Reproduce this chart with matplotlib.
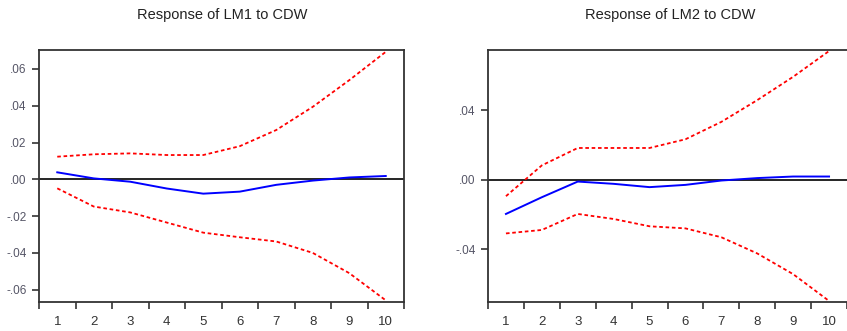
import matplotlib
matplotlib.use("Agg")
import matplotlib.pyplot as plt

plt.rcParams['font.family'] = ['Liberation Sans', 'DejaVu Sans']

periods = [1, 2, 3, 4, 5, 6, 7, 8, 9, 10]

# Response of LM1 to CDW
lm1_resp = [0.0038, 0.0005, -0.0013, -0.0050, -0.0078, -0.0067, -0.0030, -0.0007, 0.0010, 0.0018]
lm1_upper = [0.0123, 0.0136, 0.0141, 0.0132, 0.0132, 0.0180, 0.0268, 0.0394, 0.0539, 0.0693]
lm1_lower = [-0.0049, -0.0148, -0.0180, -0.0235, -0.0290, -0.0315, -0.0338, -0.0400, -0.0510, -0.0658]

# Response of LM2 to CDW
lm2_resp = [-0.0196, -0.0100, -0.0010, -0.0023, -0.0042, -0.0029, -0.0004, 0.0010, 0.0019, 0.0019]
lm2_upper = [-0.0094, 0.0083, 0.0183, 0.0183, 0.0183, 0.0233, 0.0333, 0.0458, 0.0592, 0.0740]
lm2_lower = [-0.0308, -0.0288, -0.0196, -0.0225, -0.0267, -0.0279, -0.0330, -0.0423, -0.0542, -0.0696]

lm1_yticks = [0.06, 0.04, 0.02, 0.0, -0.02, -0.04, -0.06]
lm1_ylabels = ['.06', '.04', '.02', '.00', '-.02', '-.04', '-.06']
lm2_yticks = [0.04, 0.0, -0.04]
lm2_ylabels = ['.04', '.00', '-.04']

fig = plt.figure(figsize=(8.47, 3.31), dpi=100)
ax1 = fig.add_axes([39 / 847, 29 / 331, 365 / 847, 252 / 331])
ax2 = fig.add_axes([488 / 847, 29 / 331, 359 / 847, 252 / 331])


def panel(ax, title, resp, up, lo, yt, yl, ylim, xmax, tx):
    ax.plot(periods, up, color='red', linestyle=(0, (2, 1.5)), linewidth=1.3)
    ax.plot(periods, lo, color='red', linestyle=(0, (2, 1.5)), linewidth=1.3)
    ax.plot(periods, resp, color='blue', linewidth=1.4)
    ax.axhline(0, color='black', linewidth=1.2, zorder=1)
    ax.set_xlim(0.5, xmax)
    ax.set_ylim(*ylim)
    ax.set_xticks([p + 0.5 for p in [0] + periods])
    ax.set_xticklabels([])
    ax.set_xticks(periods, minor=True)
    ax.set_xticklabels([str(p) for p in periods], minor=True)
    ax.tick_params(axis='x', which='major', direction='out', length=5, width=1.2, color='#333333')
    ax.tick_params(axis='x', which='minor', length=0, pad=10, labelsize=9.5, labelcolor='#333333')
    ax.set_yticks(yt)
    ax.set_yticklabels(yl)
    ax.tick_params(axis='y', direction='out', length=5, width=1.2, labelsize=8.5,
                   color='#333333', labelcolor='#555566', pad=4)
    for s in ax.spines.values():
        s.set_linewidth(1.3)
        s.set_color('#333333')
    fig.text(tx / 847, 1 - 15 / 331, title,
             ha='center', va='center', fontsize=10.5, color='#222222')


panel(ax1, 'Response of LM1 to CDW', lm1_resp, lm1_upper, lm1_lower,
      lm1_yticks, lm1_ylabels, (-0.0667, 0.0703), 10.5, 222)
panel(ax2, 'Response of LM2 to CDW', lm2_resp, lm2_upper, lm2_lower,
      lm2_yticks, lm2_ylabels, (-0.0702, 0.0746), 10.287, 670)
ax2.spines['right'].set_visible(False)

fig.savefig('out.png', dpi=100)
